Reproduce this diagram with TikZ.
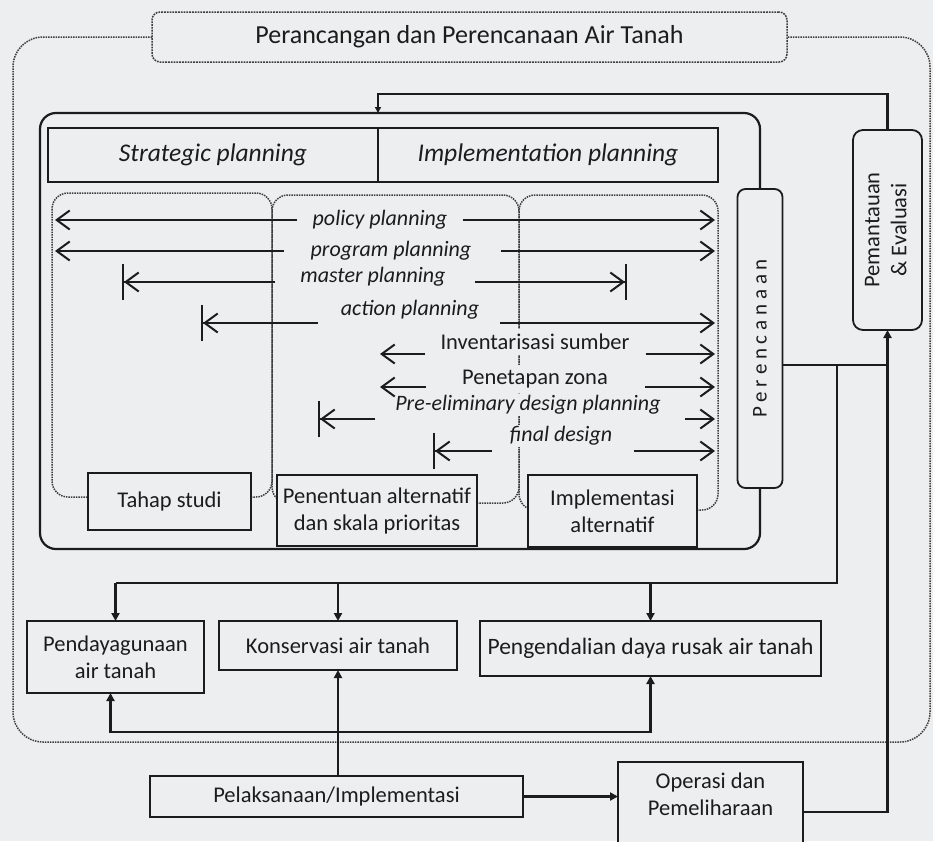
\documentclass[tikz,border=0pt]{standalone}
\usepackage{fontspec}
\setmainfont{Carlito}
\usetikzlibrary{arrows.meta,positioning}
\definecolor{paper}{RGB}{237,238,239}
\definecolor{ink}{RGB}{28,28,28}

\begin{document}
\begin{tikzpicture}[x=1pt, y=-1pt, node distance=0pt, color=ink]
    % Define styles
    \tikzstyle{component} = [rectangle, draw, line width=1.8pt, fill=paper, text centered, align=center, inner sep=2pt, outer sep=0pt, font=\fontsize{22.5}{27}\selectfont]
    \tikzstyle{header} = [component, line width=2.2pt, minimum height=54pt, font=\fontsize{25.5}{30}\selectfont\itshape]
    \tikzstyle{dotline} = [densely dotted, line width=1.5pt, draw=ink!85]
    \tikzstyle{phase} = [dotline, rounded corners=16pt]
    \tikzstyle{plan} = [inner sep=1pt, fill=paper, font=\fontsize{22}{26}\selectfont\itshape]
    \tikzstyle{task} = [inner xsep=1pt, inner ysep=5pt, fill=paper, font=\fontsize{22.5}{26}\selectfont]
    \tikzstyle{span} = [line width=2pt, -{Straight Barb[length=13pt,width=19pt]}]
    \tikzstyle{spanbar} = [line width=2pt, -{Straight Barb[length=13pt,width=19pt]Bar[width=36pt]}]
    \tikzstyle{link} = [line width=2.4pt]
    \tikzstyle{arrow} = [line width=2.6pt, -{Triangle[length=8pt,width=8pt]}]

    \fill[paper] (0,0) rectangle (933,841);
    \useasboundingbox (0,0) rectangle (933,841);

    % Frame
    \node[component, dotline, rounded corners=8pt, minimum width=635pt, minimum height=50pt, font=\fontsize{26}{30}\selectfont] (title) at (469.5,37) {Perancangan dan Perencanaan Air Tanah};
    \draw[dotline, rounded corners=30pt] (title.west) -- (13,37) -- (13,742) -- (930,742) -- (930,37) -- (title.east);

    \node[component, line width=2.2pt, rounded corners=16pt, minimum width=720pt, minimum height=436pt] (planbox) at (400,331) {};
    \node[header, minimum width=330pt] (strategic) at (213,155) {Strategic planning};
    \node[header, minimum width=340pt, right=of strategic] (implementation) {Implementation planning};

    % Phases
    \draw[phase] (52,193) rectangle (272,497);
    \draw[phase] (272,195) rectangle (519,503);
    \draw[phase] (519,195) rectangle (718,510);

    % Planning spans
    \coordinate (polL) at (55,220);   \coordinate (polR) at (715,220);
    \coordinate (proL) at (55,251);   \coordinate (proR) at (715,251);
    \coordinate (masL) at (122,282);  \coordinate (masR) at (627,282);
    \coordinate (actL) at (201,323);  \coordinate (actR) at (715,323);
    \coordinate (invL) at (380,354);  \coordinate (invR) at (715,354);
    \coordinate (zonL) at (380,387);  \coordinate (zonR) at (715,387);
    \coordinate (preL) at (318,419);  \coordinate (preR) at (715,419);
    \coordinate (finL) at (433,451);  \coordinate (finR) at (715,451);

    \node[plan] (policy) at (380,220) {policy planning};
    \node[plan] (program) at (391,251) {program planning};
    \node[plan] (master) at (373,277) {master planning};
    \node[plan] (action) at (410,310) {action planning};
    \node[task] (inventaris) at (535,342) {Inventarisasi sumber};
    \node[task] (zona) at (535,379) {Penetapan zona};
    \node[plan] (prelim) at (528,405) {Pre-eliminary design planning};
    \node[plan] (final) at (561,436) {final design};

    \draw[span] ([xshift=-14pt]policy.west) -- (polL);
    \draw[span] ([xshift=14pt]policy.east) -- (polR);
    \draw[span] ([xshift=-25pt]program.west) -- (proL);
    \draw[span] ([xshift=28pt]program.east) -- (proR);
    \draw[spanbar] ([shift={(-24pt,-5pt)}]master.west) -- (masL);
    \draw[spanbar] ([shift={(28pt,-5pt)}]master.east) -- (masR);
    \draw[spanbar] ([shift={(-22pt,-13pt)}]action.west) -- (actL);
    \draw[span] ([shift={(20pt,-13pt)}]action.east) -- (actR);
    \draw[span] ([shift={(-14pt,-12pt)}]inventaris.west) -- (invL);
    \draw[span] ([shift={(15pt,-12pt)}]inventaris.east) -- (invR);
    \draw[span] ([shift={(-35pt,-8pt)}]zona.west) -- (zonL);
    \draw[span] ([shift={(36pt,-8pt)}]zona.east) -- (zonR);
    \draw[spanbar] ([shift={(-19pt,-14pt)}]prelim.west) -- (preL);
    \draw[span] ([shift={(23pt,-14pt)}]prelim.east) -- (preR);
    \draw[spanbar] ([shift={(-17pt,-15pt)}]final.west) -- (finL);
    \draw[span] ([shift={(21pt,-15pt)}]final.east) -- (finR);

    % Components
    \node[component, minimum width=163pt, minimum height=57pt] (tahap) at (169.5,501.5) {Tahap studi};
    \node[component, minimum width=200pt, minimum height=71pt] (penentuan) at (377,510.5) {Penentuan alternatif\\dan skala prioritas};
    \node[component, minimum width=169pt, minimum height=72pt] (implementasi) at (612.5,511) {Implementasi\\alternatif};
    \node[component, rounded corners=8pt, minimum width=45pt, minimum height=299pt, font=\fontsize{21}{25}\selectfont] (perencanaan) at (760,338.5) {\rotatebox{90}{P e r e n c a n a a n}};
    \node[component, rounded corners=10pt, minimum width=69pt, minimum height=200pt] (pemantauan) at (887.5,230) {\rotatebox{90}{\begin{tabular}{@{}c@{}}Pemantauan\\\& Evaluasi\end{tabular}}};

    \node[component, minimum width=177pt, minimum height=72pt] (pendayagunaan) at (115.5,657) {Pendayagunaan\\air tanah};
    \node[component, minimum width=238pt, minimum height=49pt] (konservasi) at (338,645.5) {Konservasi air tanah};
    \node[component, minimum width=341pt, minimum height=55pt, font=\fontsize{23.5}{27}\selectfont] (pengendalian) at (650.5,648.5) {Pengendalian daya rusak air tanah};
    \node[component, minimum width=373pt, minimum height=41pt] (pelaksanaan) at (336.5,796.5) {Pelaksanaan/Implementasi};
    \node[component, minimum width=185pt, minimum height=100pt] (operasi) at (710.5,812) {Operasi dan\\Pemeliharaan\\\strut};

    % Connections
    \coordinate (fb) at (378,94);
    \coordinate (split) at (837,365);
    \coordinate (fan) at (837,583);
    \coordinate (back) at (338,732);

    \draw[arrow, -{Triangle[length=6pt,width=6pt]}] (pemantauan.north) |- (fb) -- (fb |- planbox.north);
    \draw[link] (perencanaan.east |- split) -- (pemantauan.south |- split);
    \draw[link] (split) -- (fan) -- (fan -| pendayagunaan.north);
    \draw[arrow] (fan -| pendayagunaan.north) -- (pendayagunaan.north);
    \draw[arrow] (fan -| konservasi.north) -- (konservasi.north);
    \draw[arrow] (fan -| pengendalian.north) -- (pengendalian.north);
    \draw[arrow] (pelaksanaan.north -| konservasi.south) -- (konservasi.south);
    \draw[arrow] (back) -| ([xshift=-5pt]pendayagunaan.south);
    \draw[arrow] (back) -| (pengendalian.south);
    \draw[arrow] (pelaksanaan.east) -- (operasi.west |- pelaksanaan.east);
    \draw[arrow] (operasi.east) -| (pemantauan.south);
\end{tikzpicture}
\end{document}
